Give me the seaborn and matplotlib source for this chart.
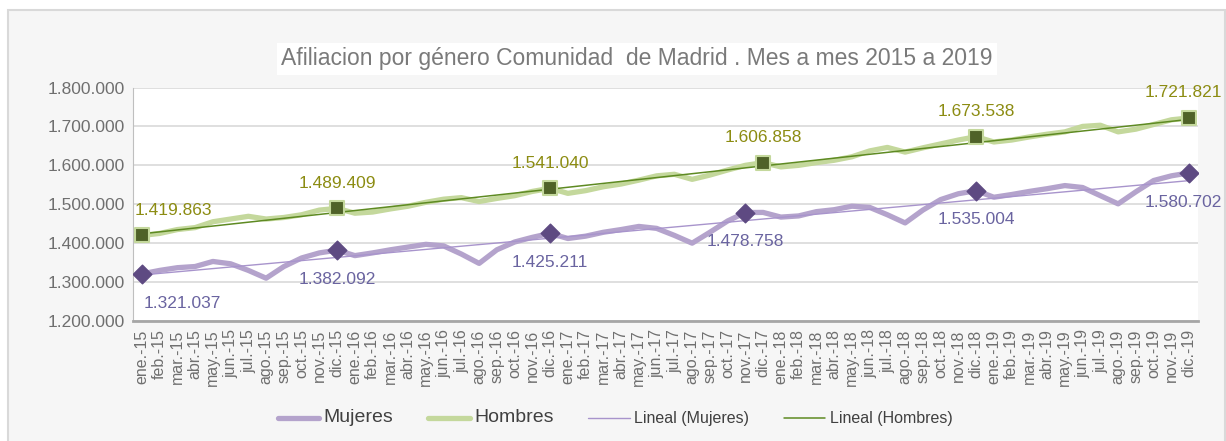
import matplotlib.pyplot as plt
import matplotlib.patches as mpatches
import seaborn as sns
import pandas as pd
import numpy as np

# months and values
years = ["15", "16", "17", "18", "19"]
months = ["ene.", "feb.", "mar.", "abr.", "may.", "jun.", "jul.", "ago.", "sep.", "oct.", "nov.", "dic."]
meses = [m + "-" + y for y in years for m in months]

mujeres = [
    1321037, 1330000, 1337000, 1340000, 1353000, 1347000, 1330000, 1310000, 1340000, 1362000, 1375000, 1382092,
    1368000, 1375000, 1383000, 1390000, 1397000, 1393000, 1372000, 1348000, 1383000, 1403000, 1415000, 1425211,
    1412000, 1418000, 1428000, 1435000, 1443000, 1438000, 1420000, 1400000, 1428000, 1457000, 1478758, 1479000,
    1467000, 1470000, 1481000, 1486000, 1495000, 1492000, 1473000, 1452000, 1485000, 1512000, 1527000, 1535004,
    1518000, 1525000, 1533000, 1540000, 1548000, 1543000, 1522000, 1501000, 1532000, 1561000, 1573000, 1580702,
]
hombres = [
    1419863, 1425000, 1435000, 1440000, 1455000, 1462000, 1469000, 1462000, 1466000, 1473000, 1485000, 1489409,
    1477000, 1480000, 1488000, 1495000, 1505000, 1513000, 1517000, 1507000, 1515000, 1522000, 1533000, 1541040,
    1528000, 1535000, 1545000, 1552000, 1562000, 1573000, 1577000, 1564000, 1575000, 1588000, 1600000, 1606858,
    1596000, 1600000, 1607000, 1613000, 1622000, 1637000, 1646000, 1634000, 1645000, 1655000, 1665000, 1673538,
    1660000, 1665000, 1673000, 1680000, 1686000, 1700000, 1703000, 1686000, 1693000, 1705000, 1717000, 1721821,
]
idx_muj = [0, 11, 23, 34, 47, 59]
idx_hom = [0, 11, 23, 35, 47, 59]

df = pd.DataFrame({"x": np.arange(len(meses)), "Mujeres": mujeres, "Hombres": hombres})


def fmt(v):
    return f"{v:,}".replace(",", ".")


sns.set_style("white")
plt.rcParams["font.family"] = ["Liberation Sans", "DejaVu Sans"]

fig = plt.figure(figsize=(12.26, 4.41), dpi=100, facecolor="white")
# outer chart area (light grey with border)
bg = mpatches.Rectangle((8 / 1226, -0.01), 1216.5 / 1226, 1 - 10 / 441 + 0.01,
                        transform=fig.transFigure, facecolor="#f6f6f6",
                        edgecolor="#d9d9d9", linewidth=1.5, zorder=-10)
fig.add_artist(bg)
ax = fig.add_axes([133 / 1226, 1 - 321 / 441, 1065 / 1226, 233.5 / 441])
ax.set_facecolor("white")

c_muj, c_hom = "#b4a3cc", "#c4d89c"
sns.lineplot(data=df, x="x", y="Mujeres", ax=ax, color=c_muj, linewidth=3.8, label="Mujeres", zorder=3)
sns.lineplot(data=df, x="x", y="Hombres", ax=ax, color=c_hom, linewidth=3.8, label="Hombres", zorder=3)

# linear trend lines (Excel "Lineal")
pm = np.polyfit(df["x"], df["Mujeres"], 1)
ph = np.polyfit(df["x"], df["Hombres"], 1)
ax.plot(df["x"], np.polyval(pm, df["x"]), color="#a894cc", linewidth=1.0, label="Lineal (Mujeres)", zorder=4)
ax.plot(df["x"], np.polyval(ph, df["x"]), color="#5e8a22", linewidth=1.1, label="Lineal (Hombres)", zorder=4)

# highlighted points and labels
ax.scatter(df["x"][idx_muj], df["Mujeres"][idx_muj], marker="D", s=90, color="#5e4a82",
           edgecolor="#5e4a82", zorder=5)
ax.scatter(df["x"][idx_hom], df["Hombres"][idx_hom], marker="s", s=105, color="#4f6228",
           edgecolor=c_hom, linewidth=1.5, zorder=5)

lab_muj = "#6a64a0"
lab_hom = "#8c8c12"
for i in idx_muj:
    dx = 0
    if i == 0:
        dx = 29
    if i == 59:
        dx = -4
    ax.annotate(fmt(mujeres[i]), (i, mujeres[i]), xytext=(dx, -21), textcoords="offset points",
                ha="center", va="center", fontsize=12.5, color=lab_muj, zorder=6, annotation_clip=False)
for i in idx_hom:
    dx = 0
    if i == 0:
        dx = 23
    if i == 59:
        dx = -4
    ax.annotate(fmt(hombres[i]), (i, hombres[i]), xytext=(dx, 18), textcoords="offset points",
                ha="center", va="center", fontsize=12.5, color=lab_hom, zorder=6, annotation_clip=False)

ax.set_xlim(-0.5, 59.5)
ax.set_ylim(1200000, 1800000)
ax.set_yticks(np.arange(1200000, 1800001, 100000))
ax.set_yticklabels([fmt(v) for v in range(1200000, 1800001, 100000)], fontsize=12.5, color="#6f6f6f")
ax.set_xticks(df["x"])
ax.set_xticklabels(meses, rotation=90, fontsize=11.5, color="#6f6f6f")
ax.tick_params(axis="both", length=0, pad=6)
ax.grid(axis="y", color="#d9d9d9", linewidth=1.2)
ax.set_axisbelow(True)
ax.set_xlabel("")
ax.set_ylabel("")
for s in ["top", "right"]:
    ax.spines[s].set_visible(False)
ax.spines["left"].set_color("#bfbfbf")
ax.spines["bottom"].set_color("#a6a6a6")
ax.spines["bottom"].set_linewidth(2)

fig.text(637 / 1226, 1 - 59 / 441, "Afiliacion por género Comunidad  de Madrid . Mes a mes 2015 a 2019",
         ha="center", va="center", fontsize=16.5, color="#7a7a7a",
         bbox=dict(facecolor="white", edgecolor="none", pad=3))

leg = ax.legend(loc="center", bbox_to_anchor=(615 / 1226, 1 - 418 / 441), bbox_transform=fig.transFigure,
                ncol=4, frameon=False, handlelength=3.0, columnspacing=2.5, handletextpad=0.3)
for t in leg.get_texts()[:2]:
    t.set_fontsize(14)
for t in leg.get_texts()[2:]:
    t.set_fontsize(11.5)
for t in leg.get_texts():
    t.set_color("#404040")

fig.savefig("out.png", dpi=100, facecolor=fig.get_facecolor())
